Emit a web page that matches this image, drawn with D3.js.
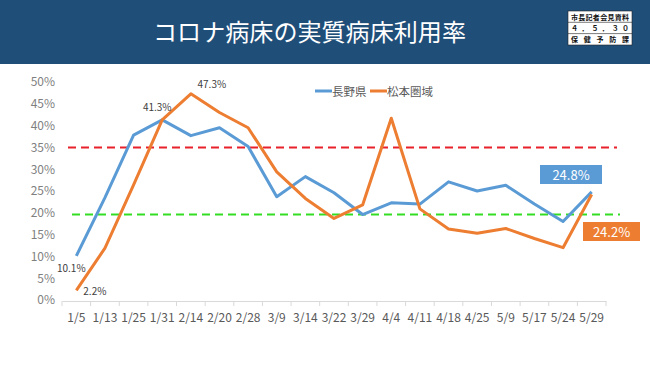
<!DOCTYPE html>
<html><head><meta charset="utf-8">
<script src="https://cdn.jsdelivr.net/npm/d3@7"></script>
<style>
html,body{margin:0;padding:0;background:#fff;}
svg{display:block;font-family:"Noto Sans CJK JP","Noto Sans",sans-serif;}
</style></head>
<body><svg id="c" width="650" height="365"></svg>
<script>
const categories = ["1/5","1/13","1/25","1/31","2/14","2/20","2/28","3/9","3/14","3/22","3/29","4/4","4/11","4/18","4/25","5/9","5/17","5/24","5/29"];
const naganoValues = [10.1,23.5,37.8,41.3,37.7,39.5,35.2,23.7,28.3,24.6,19.6,22.3,22.0,27.1,25.0,26.3,22.0,18.0,24.8];
const matsumotoValues = [2.2,11.9,26.4,41.3,47.3,43.0,39.5,29.4,23.3,18.7,21.8,41.7,20.9,16.3,15.3,16.4,14.1,12.0,24.2];
const seriesNames = ["長野県","松本圏域"];
const yTicks = [0,5,10,15,20,25,30,35,40,45,50];
const thresholdValues = [35, 19.6];
const titleText = "コロナ病床の実質病床利用率";
const stampLines = ["市長記者会見資料","４．５．３０","保 健 予 防 課"];

const svg = d3.select("#c");
const blue = "#5b9bd5", orange = "#ed7d31";

// header
svg.append("rect").attr("x",0).attr("y",0).attr("width",650).attr("height",64).attr("fill","#1f4e79");
svg.append("text").attr("x",153).attr("y",41).attr("fill","#fff").attr("font-size",24)
  .attr("textLength",313).attr("lengthAdjust","spacingAndGlyphs").text(titleText);
// stamp box
const sb = svg.append("g");
sb.append("rect").attr("x",568).attr("y",11).attr("width",64).attr("height",34).attr("fill","#fff").attr("stroke","#222").attr("stroke-width",0.6);
[22.3,33.6].forEach(yy=>sb.append("line").attr("x1",568).attr("x2",632).attr("y1",yy).attr("y2",yy).attr("stroke","#222").attr("stroke-width",0.6));
stampLines.forEach((t,i)=>{
  sb.append("text").attr("x",600).attr("y",19.5+i*11.3).attr("text-anchor","middle").attr("font-size",7).attr("font-weight","bold").attr("fill","#111")
    .attr("textLength",58).attr("lengthAdjust","spacing").text(t);
});

const x = d3.scaleBand().domain(categories).range([62,606]).padding(0);
const y = d3.scaleLinear().domain([0,50]).range([300,82]);
const cx = d => x(d) + x.bandwidth()/2;

// y axis labels
const ya = svg.append("g").attr("transform","translate(62,0)")
  .call(d3.axisLeft(y).tickValues(yTicks).tickFormat(d=>d+"%").tickSize(0).tickPadding(7));
ya.select(".domain").remove();
ya.selectAll("text").attr("fill","#7f7f7f").attr("font-size",12).attr("font-family","'Noto Sans CJK JP',sans-serif");

// x axis
const xa = svg.append("g").attr("transform","translate(0,301)")
  .call(d3.axisBottom(x).tickSize(0).tickPadding(12));
xa.select(".domain").attr("stroke","#d9d9d9");
xa.selectAll("text").attr("fill","#595959").attr("font-size",12).attr("font-family","'Noto Sans CJK JP',sans-serif");
const bounds = categories.map(c=>x(c)).concat([x(categories[categories.length-1])+x.bandwidth()]);
xa.selectAll(".bt").data(bounds).enter().append("line").attr("x1",d=>d).attr("x2",d=>d).attr("y1",0).attr("y2",5).attr("stroke","#d9d9d9");

// threshold lines
svg.append("line").attr("x1",68).attr("x2",617).attr("y1",y(thresholdValues[0])).attr("y2",y(thresholdValues[0]))
  .attr("stroke","#e8212b").attr("stroke-width",2).attr("stroke-dasharray","8,5");
svg.append("line").attr("x1",72).attr("x2",620).attr("y1",y(thresholdValues[1])).attr("y2",y(thresholdValues[1]))
  .attr("stroke","#33dd22").attr("stroke-width",2).attr("stroke-dasharray","8,5");

// lines
const line = d3.line().x((d,i)=>cx(categories[i])).y(d=>y(d));
svg.append("path").datum(naganoValues).attr("d",line).attr("fill","none").attr("stroke",blue).attr("stroke-width",3).attr("stroke-linejoin","round");
svg.append("path").datum(matsumotoValues).attr("d",line).attr("fill","none").attr("stroke",orange).attr("stroke-width",3).attr("stroke-linejoin","round");

// data labels
const lab = (t,xx,yy,anchor)=>svg.append("text").attr("x",xx).attr("y",yy).attr("font-size",10).attr("fill","#404040").attr("text-anchor",anchor||"middle").text(t);
lab(naganoValues[0].toFixed(1)+"%", cx(categories[0])-5, y(naganoValues[0])+16.5);
lab(matsumotoValues[0].toFixed(1)+"%", cx(categories[0])+7, y(matsumotoValues[0])+5, "start");
lab(naganoValues[3].toFixed(1)+"%", cx(categories[3])-5, y(naganoValues[3])-8.5);
lab(matsumotoValues[4].toFixed(1)+"%", cx(categories[4])+21, y(matsumotoValues[4])-5.5);

// end labels with boxes
const last = categories.length-1;
svg.append("rect").attr("x",540).attr("y",165).attr("width",62).attr("height",19).attr("fill",blue);
svg.append("text").attr("x",571).attr("y",179.5).attr("text-anchor","middle").attr("fill","#fff").attr("font-size",13).text(naganoValues[last].toFixed(1)+"%");
svg.append("rect").attr("x",583).attr("y",222).attr("width",57).attr("height",19).attr("fill",orange);
svg.append("text").attr("x",611.5).attr("y",236.5).attr("text-anchor","middle").attr("fill","#fff").attr("font-size",13).text(matsumotoValues[last].toFixed(1)+"%");

// legend
const lg = svg.append("g");
[[315,blue,seriesNames[0]],[370,orange,seriesNames[1]]].forEach(([lx,col,name])=>{
  lg.append("line").attr("x1",lx).attr("x2",lx+17).attr("y1",91).attr("y2",91).attr("stroke",col).attr("stroke-width",3);
  lg.append("text").attr("x",lx+17).attr("y",95.5).attr("font-size",11.5).attr("fill","#595959").text(name);
});
</script></body></html>
